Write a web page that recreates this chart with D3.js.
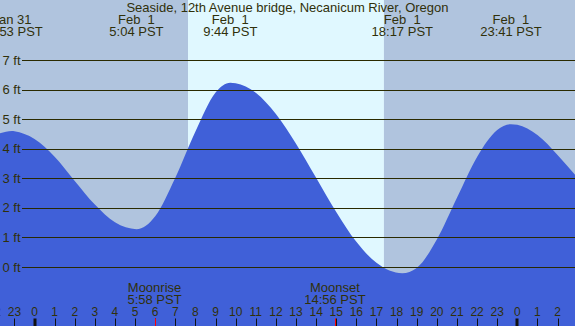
<!DOCTYPE html>
<html><head><meta charset="utf-8">
<script src="https://cdn.jsdelivr.net/npm/d3@7"></script>
<style>body{margin:0;background:#fff}svg{display:block}text{font-family:"Liberation Sans",Arial,sans-serif;white-space:pre}</style>
</head><body>
<script>
// Title
const title = "Seaside, 12th Avenue bridge, Necanicum River, Oregon";
// Tide heights (ft), hours relative to Feb 1 00:00 PST
const tideHours =   [-2, -1.12, -1, 0, 1, 2, 3, 4, 5.07, 6, 7, 8, 9, 9.73, 10, 11, 12, 13, 14, 15, 16, 17, 18.28, 19, 20, 21, 22, 23, 23.68, 24, 25, 26, 27];
const tideHeights = [4.45, 4.60, 4.59, 4.33, 3.73, 2.91, 2.11, 1.51, 1.28, 1.72, 3.02, 4.58, 5.90, 6.23, 6.21, 5.89, 5.17, 4.17, 3.02, 1.86, 0.85, 0.14, -0.21, -0.03, 0.93, 2.34, 3.72, 4.63, 4.83, 4.81, 4.46, 3.79, 3.01];
// High / low labels
const extremeHours = [-1.117, 5.067, 9.733, 18.283, 23.683];
const extremeDates = ["Jan 31", "Feb  1", "Feb  1", "Feb  1", "Feb  1"];
const extremeTimes = ["22:53 PST", "5:04 PST", "9:44 PST", "18:17 PST", "23:41 PST"];
// Sun
const sunrise = 7.63, sunset = 17.37;
// Moon events
const moonHours = [5.967, 14.933];
const moonNames = ["Moonrise", "Moonset"];
const moonTimes = ["5:58 PST", "14:56 PST"];
// Height gridlines
const feetTicks = [0, 1, 2, 3, 4, 5, 6, 7];
// Hour ticks
const hourTicks = [-2, -1, 0, 1, 2, 3, 4, 5, 6, 7, 8, 9, 10, 11, 12, 13, 14, 15, 16, 17, 18, 19, 20, 21, 22, 23, 24, 25, 26];

const W = 575, H = 326;
const x = d3.scaleLinear().domain([0, 24]).range([34.5, 517.3]);
const y = d3.scaleLinear().domain([0, 7]).range([267, 60]);

const svg = d3.select("body").append("svg").attr("width", W).attr("height", H);
const txt = "#30300a";

svg.append("rect").attr("x", 0).attr("y", 0).attr("width", W).attr("height", H).attr("fill", "#b0c4de");
svg.append("rect").attr("x", x(sunrise)).attr("y", 0).attr("width", x(sunset) - x(sunrise)).attr("height", H).attr("fill", "#e0f8ff");

const pts = tideHours.map((h, i) => [h, tideHeights[i]]);
const area = d3.area().x(d => x(d[0])).y0(H).y1(d => y(d[1])).curve(d3.curveMonotoneX);
svg.append("path").datum(pts).attr("d", area).attr("fill", "#4060d8");

// gridlines
svg.selectAll("line.ft").data(feetTicks).enter().append("line")
  .attr("x1", 22).attr("x2", W)
  .attr("y1", d => Math.round(y(d)) + 0.5).attr("y2", d => Math.round(y(d)) + 0.5)
  .attr("stroke", "#2a2a00").attr("stroke-width", 1);
svg.selectAll("text.ft").data(feetTicks).enter().append("text")
  .attr("x", 2.5).attr("y", d => y(d) + 4.5)
  .attr("font-size", 13).attr("fill", txt).text(d => d + " ft");

// title
svg.append("text").attr("x", W / 2).attr("y", 12).attr("text-anchor", "middle")
  .attr("font-size", 13).attr("fill", txt).text(title);

// extremes
extremeHours.forEach((h, i) => {
  svg.append("text").attr("x", x(h)).attr("y", 24).attr("text-anchor", "middle")
    .attr("font-size", 13).attr("fill", txt).text(extremeDates[i]);
  svg.append("text").attr("x", x(h)).attr("y", 36).attr("text-anchor", "middle")
    .attr("font-size", 13).attr("fill", txt).text(extremeTimes[i]);
});

// hour ticks
hourTicks.forEach(h => {
  const mid = ((h % 24) + 24) % 24 === 0;
  svg.append("line").attr("x1", Math.round(x(h)) + (mid ? 0 : 0.5)).attr("x2", Math.round(x(h)) + (mid ? 0 : 0.5))
    .attr("y1", 318.5).attr("y2", H).attr("stroke", "#111").attr("stroke-width", mid ? 3 : 1);
  svg.append("text").attr("x", x(h)).attr("y", 316).attr("text-anchor", "middle")
    .attr("font-size", 12).attr("fill", txt).text(((h % 24) + 24) % 24);
});

// moon
moonHours.forEach((h, i) => {
  svg.append("line").attr("x1", Math.round(x(h)) + 0.5).attr("x2", Math.round(x(h)) + 0.5)
    .attr("y1", 318.5).attr("y2", H).attr("stroke", "#ff0000").attr("stroke-width", 1);
  svg.append("text").attr("x", x(h)).attr("y", 291.5).attr("text-anchor", "middle")
    .attr("font-size", 13).attr("fill", txt).text(moonNames[i]);
  svg.append("text").attr("x", x(h)).attr("y", 304).attr("text-anchor", "middle")
    .attr("font-size", 13).attr("fill", txt).text(moonTimes[i]);
});
</script>
</body></html>
